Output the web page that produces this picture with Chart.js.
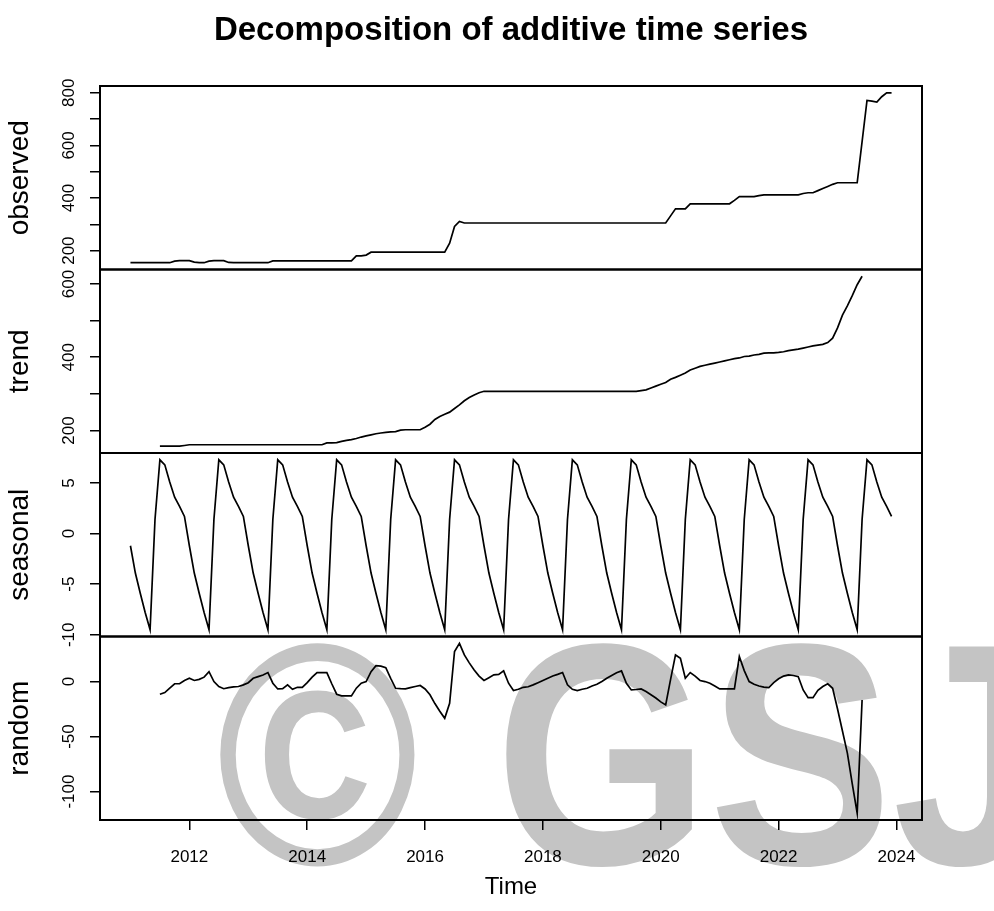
<!DOCTYPE html>
<html>
<head>
<meta charset="utf-8">
<title>Decomposition of additive time series</title>
<script src="https://cdn.jsdelivr.net/npm/chart.js@4/dist/chart.umd.min.js"></script>
<style>
  html, body { margin: 0; padding: 0; background: #fff; }
  #wrap { width: 994px; height: 911px; }
</style>
</head>
<body>
<div id="wrap"><canvas id="decomp" width="994" height="911"></canvas></div>
<script>
// monthly series, Jan 2011 .. Dec 2023
var startYear = 2011;
var freq = 12;

var observed = [
  154, 154, 154, 154, 154, 154, 154, 154, 154, 160, 162, 162,
  162, 156, 154, 154, 160, 162, 162, 162, 155, 154, 154, 154,
  154, 154, 154, 154, 154, 161, 161, 161, 161, 161, 161, 161,
  161, 161, 161, 161, 161, 161, 161, 161, 161, 161, 180, 180,
  183, 194, 194, 194, 194, 194, 194, 194, 194, 194, 194, 194,
  194, 194, 194, 194, 194, 228, 292, 311, 305, 305, 305, 305,
  305, 305, 305, 305, 305, 305, 305, 305, 305, 305, 305, 305,
  305, 305, 305, 305, 305, 305, 305, 305, 305, 305, 305, 305,
  305, 305, 305, 305, 305, 305, 305, 305, 305, 305, 305, 305,
  305, 305, 332, 359, 359, 359, 378, 378, 378, 378, 378, 378,
  378, 378, 378, 391, 405, 405, 405, 405, 409, 412, 412, 412,
  412, 412, 412, 412, 412, 417, 420, 420, 428, 436, 444, 452,
  458, 458, 458, 458, 458, 614, 771, 768, 765, 785, 800, 800
];

var trend = [
  null, null, null, null, null, null, 157, 157, 157, 157, 157, 159,
  161, 161, 161, 161, 161, 161, 161, 161, 161, 161, 161, 161,
  161, 161, 161, 161, 161, 161, 161, 161, 161, 161, 161, 161,
  161, 161, 161, 161, 166, 166, 167, 170, 173, 175, 178, 182,
  185, 188, 191, 193, 195, 196, 197, 201, 202, 202, 202, 202,
  209, 217, 230, 238, 244, 250, 260, 270, 281, 290, 297, 303,
  307, 307, 307, 307, 307, 307, 307, 307, 307, 307, 307, 307,
  307, 307, 307, 307, 307, 307, 307, 307, 307, 307, 307, 307,
  307, 307, 307, 307, 307, 307, 307, 307, 309, 311, 316, 321,
  326, 331, 340, 345, 351, 357, 365, 370, 375, 378, 381, 384,
  387, 390, 393, 396, 398, 402, 403, 406, 408, 411, 412, 412,
  413, 415, 418, 420, 422, 425, 428, 431, 433, 435, 440, 452,
  480, 515, 540, 568, 598, 621, null, null, null, null, null, null
];

var seasonal = [
  -1.2, -3.9, -5.9, -7.8, -9.5, 1.4, 7.3, 6.8, 5.1, 3.6, 2.7, 1.7,
  -1.2, -3.9, -5.9, -7.8, -9.5, 1.4, 7.3, 6.8, 5.1, 3.6, 2.7, 1.7,
  -1.2, -3.9, -5.9, -7.8, -9.5, 1.4, 7.3, 6.8, 5.1, 3.6, 2.7, 1.7,
  -1.2, -3.9, -5.9, -7.8, -9.5, 1.4, 7.3, 6.8, 5.1, 3.6, 2.7, 1.7,
  -1.2, -3.9, -5.9, -7.8, -9.5, 1.4, 7.3, 6.8, 5.1, 3.6, 2.7, 1.7,
  -1.2, -3.9, -5.9, -7.8, -9.5, 1.4, 7.3, 6.8, 5.1, 3.6, 2.7, 1.7,
  -1.2, -3.9, -5.9, -7.8, -9.5, 1.4, 7.3, 6.8, 5.1, 3.6, 2.7, 1.7,
  -1.2, -3.9, -5.9, -7.8, -9.5, 1.4, 7.3, 6.8, 5.1, 3.6, 2.7, 1.7,
  -1.2, -3.9, -5.9, -7.8, -9.5, 1.4, 7.3, 6.8, 5.1, 3.6, 2.7, 1.7,
  -1.2, -3.9, -5.9, -7.8, -9.5, 1.4, 7.3, 6.8, 5.1, 3.6, 2.7, 1.7,
  -1.2, -3.9, -5.9, -7.8, -9.5, 1.4, 7.3, 6.8, 5.1, 3.6, 2.7, 1.7,
  -1.2, -3.9, -5.9, -7.8, -9.5, 1.4, 7.3, 6.8, 5.1, 3.6, 2.7, 1.7,
  -1.2, -3.9, -5.9, -7.8, -9.5, 1.4, 7.3, 6.8, 5.1, 3.6, 2.7, 1.7
];

var random = [
  null, null, null, null, null, null, -11.5, -10, -6, -2, -2, 1,
  3, 1, 2, 4, 9, 0, -4.5, -6.5, -5.5, -4.8, -4.5, -3,
  -1, 3, 4.5, 6, 8.2, -1.5, -6.7, -6.5, -3, -7, -5.2, -5.2,
  -1, 4, 8.2, 8.2, 8.2, -2, -11.5, -13, -13, -13, -6, -1.5,
  0, 9, 14.5, 14, 12.7, 3, -6.1, -6.5, -6.7, -5.5, -4.5, -3.6,
  -6.7, -12, -20, -27, -33.4, -19.7, 27.3, 34.8, 24.2, 17, 10.6, 5,
  1, 3.5, 6.1, 6.5, 9.7, -1.5, -8.2, -7, -5.2, -4.7, -3, -1,
  1, 3, 5, 6.5, 8.2, -3, -7, -8.2, -7, -6.1, -4, -2.5,
  0, 3, 5.5, 8, 9.7, -1.5, -7.6, -7.2, -6.7, -9, -12, -15,
  -18.5, -21.2, 2, 24.2, 21.2, 3, 8.2, 5, 1, 0, -1.5, -4,
  -6.7, -6.7, -6.7, -6.7, 22.7, 10, 0, -2.5, -4, -5, -5.5, -1,
  2.5, 5, 6, 5.5, 4.5, -7.6, -14.6, -14.6, -8, -4.5, -2, -6.1,
  -25, -45, -65, -93, -119.7, -16.7, null, null, null, null, null, null
];

// axis ticks and the ticks that carry a label
var yearTicks = [2012, 2014, 2016, 2018, 2020, 2022, 2024];
var obsTicks = [200, 300, 400, 500, 600, 700, 800];
var obsLabels = [200, 400, 600, 800];
var trendTicks = [200, 300, 400, 500, 600];
var trendLabels = [200, 400, 600];
var seasTicks = [-10, -5, 0, 5];
var seasLabels = [-10, -5, 0, 5];
var randTicks = [-100, -50, 0];
var randLabels = [-100, -50, 0];

var FONT = "'Liberation Sans', Arial, Helvetica, sans-serif";
Chart.defaults.font.family = FONT;
Chart.defaults.color = '#000';

function toPoints(arr) {
    return arr.map(function (v, i) {
        return { x: startYear + i / freq, y: v };
    });
}

// R style: data range widened by 4% on each side
function padRange(arr) {
    var vals = arr.filter(function (v) { return v !== null; });
    var lo = Math.min.apply(null, vals), hi = Math.max.apply(null, vals);
    var pad = (hi - lo) * 0.04;
    return [lo - pad, hi + pad];
}

function panelScale(name, arr, ticks, weight) {
    var r = padRange(arr);
    return {
        type: 'linear',
        position: 'left',
        stack: 'panels',
        stackWeight: 1,
        weight: weight,
        min: r[0],
        max: r[1],
        afterBuildTicks: function (s) {
            s.ticks = ticks.map(function (v) { return { value: v }; });
        },
        afterFit: function (s) { s.width = 100; },
        border: { display: false },
        grid: { drawOnChartArea: false, drawTicks: true, tickLength: 10, color: '#000', lineWidth: 1.5 },
        ticks: { display: false },
        title: { display: true, text: name, font: { size: 28 }, color: '#000', padding: { top: 3, bottom: 0 } }
    };
}

var xLen = (observed.length - 1) / freq;
var xMin = startYear - xLen * 0.04;
var xMax = startYear + xLen * 1.04;

function line(label, arr, axis) {
    return {
        label: label,
        data: toPoints(arr),
        yAxisID: axis,
        borderColor: '#000',
        borderWidth: 1.7,
        pointRadius: 0,
        tension: 0,
        fill: false
    };
}

var panelLabels = { yObs: obsLabels, yTrend: trendLabels, ySeas: seasLabels, yRand: randLabels };

var panelPlugin = {
    id: 'panels',
    beforeDraw: function (chart) {
        // grey watermark behind the plot, a bit taller than wide
        var ctx = chart.ctx;
        ctx.save();
        ctx.fillStyle = '#c4c4c4';
        ctx.font = 'bold 275px ' + FONT;
        ctx.textBaseline = 'alphabetic';
        ctx.textAlign = 'left';
        ctx.scale(1, 1.15);
        ctx.fillText('\u00A9 GSJ', 216, 864 / 1.15);
        ctx.restore();
    },
    afterDraw: function (chart) {
        var ctx = chart.ctx;
        var area = chart.chartArea;
        ctx.save();
        ctx.strokeStyle = '#000';
        ctx.lineWidth = 2;
        ['yObs', 'yTrend', 'ySeas', 'yRand'].forEach(function (id) {
            var s = chart.scales[id];
            ctx.strokeRect(area.left, s.top, area.right - area.left, s.bottom - s.top);
        });
        // rotated tick labels, as R draws them
        ctx.fillStyle = '#000';
        ctx.font = '17px ' + FONT;
        ctx.textAlign = 'center';
        ctx.textBaseline = 'alphabetic';
        ['yObs', 'yTrend', 'ySeas', 'yRand'].forEach(function (id) {
            var s = chart.scales[id];
            panelLabels[id].forEach(function (v) {
                var y = s.getPixelForValue(v);
                ctx.save();
                ctx.translate(area.left - 26, y);
                ctx.rotate(-Math.PI / 2);
                ctx.fillText(String(v), 0, 0);
                ctx.restore();
            });
        });
        ctx.restore();
    }
};

new Chart(document.getElementById('decomp'), {
    type: 'line',
    data: {
        datasets: [
            line('observed', observed, 'yObs'),
            line('trend', trend, 'yTrend'),
            line('seasonal', seasonal, 'ySeas'),
            line('random', random, 'yRand')
        ]
    },
    options: {
        responsive: false,
        animation: false,
        devicePixelRatio: 1,
        layout: { padding: { left: 0, right: 72, top: 0, bottom: 0 } },
        plugins: {
            legend: { display: false },
            tooltip: { enabled: false },
            title: {
                display: true,
                fullSize: false,
                text: 'Decomposition of additive time series',
                font: { size: 33, weight: 'bold' },
                color: '#000',
                padding: { top: 11, bottom: 35.4 }
            }
        },
        scales: {
            x: {
                type: 'linear',
                position: 'bottom',
                min: xMin,
                max: xMax,
                afterBuildTicks: function (s) {
                    s.ticks = yearTicks.map(function (v) { return { value: v }; });
                },
                afterFit: function (s) { s.height = 91; },
                border: { display: false },
                grid: { drawOnChartArea: false, drawTicks: true, tickLength: 10, color: '#000', lineWidth: 1.5 },
                ticks: {
                    font: { size: 17 },
                    padding: 17,
                    maxRotation: 0,
                    callback: function (v) { return String(v); }
                },
                title: { display: true, text: 'Time', font: { size: 24 }, padding: { top: 0, bottom: 9 } }
            },
            yObs: panelScale('observed', observed, obsTicks, 4),
            yTrend: panelScale('trend', trend, trendTicks, 3),
            ySeas: panelScale('seasonal', seasonal, seasTicks, 2),
            yRand: panelScale('random', random, randTicks, 1)
        }
    },
    plugins: [panelPlugin]
});
</script>
</body>
</html>
